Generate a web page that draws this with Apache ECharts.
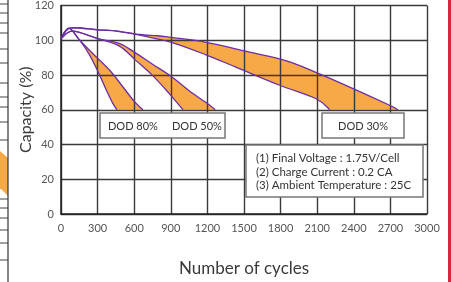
<!DOCTYPE html>
<html>
<head>
<meta charset="utf-8">
<script src="https://cdn.jsdelivr.net/npm/echarts@6/dist/echarts.min.js"></script>
<style>
  html, body { margin: 0; padding: 0; background: #fff; }
  #chart { width: 451px; height: 282px; }
</style>
</head>
<body>
<div id="chart"></div>
<script>
// cycle / capacity points, [cycles, capacity %]
var dod80Upper = [[0, 101], [65, 107], [150, 100.3], [262, 92.2], [399, 82.7], [508, 73.1], [604, 64.5], [672, 60]];
var dod80Lower = [[0, 101], [65, 107], [150, 100.3], [236, 91.3], [311, 80.8], [372, 71.2], [426, 63.5], [459, 60]];
var dod50Upper = [[0, 101], [96, 105.3], [301, 101], [482, 98], [604, 93], [754, 86], [891, 79.8], [1082, 69.3], [1192, 64], [1265, 60]];
var dod50Lower = [[0, 101], [96, 105.3], [301, 101], [482, 96.5], [604, 89], [754, 79.5], [891, 69], [1000, 60]];
var dod30Upper = [[0, 101], [75, 107], [301, 106], [465, 105.3], [645, 103.3], [793, 102.6], [905, 101.6], [1192, 98.8], [1492, 94], [1848, 88.2], [2094, 81.4], [2394, 72.2], [2694, 62.6], [2762, 60]];
var dod30Lower = [[0, 101], [75, 107], [301, 106], [465, 105.1], [645, 102.9], [905, 98.8], [1192, 91.5], [1438, 84.4], [1793, 74.1], [2094, 66.2], [2203, 60]];

var xTicks = [0, 300, 600, 900, 1200, 1500, 1800, 2100, 2400, 2700, 3000];
var yTicks = [0, 20, 40, 60, 80, 100, 120];

var dodLabels = ['DOD 80%', 'DOD 50%', 'DOD 30%'];
var notes = ['(1) Final Voltage : 1.75V/Cell', '(2) Charge Current : 0.2 CA', '(3) Ambient Temperature : 25C'];

var bands = [
    { upper: dod80Upper, lower: dod80Lower },
    { upper: dod50Upper, lower: dod50Lower },
    { upper: dod30Upper, lower: dod30Lower }
];

var ORANGE = '#f7a847';
var PURPLE = '#6b2fa3';
var FONT = 'Lato';

// catmull-rom through the pixel points, as cubic bezier segments
function bez(pts) {
    var d = '';
    for (var i = 0; i < pts.length - 1; i++) {
        var p0 = pts[i - 1] || pts[i], p1 = pts[i], p2 = pts[i + 1], p3 = pts[i + 2] || p2;
        var c1x = p1[0] + (p2[0] - p0[0]) / 6, c1y = p1[1] + (p2[1] - p0[1]) / 6;
        var c2x = p2[0] - (p3[0] - p1[0]) / 6, c2y = p2[1] - (p3[1] - p1[1]) / 6;
        d += ' C ' + c1x + ' ' + c1y + ' ' + c2x + ' ' + c2y + ' ' + p2[0] + ' ' + p2[1];
    }
    return d;
}

function pixels(api, list) {
    return list.map(function (p) { return api.coord(p); });
}

var chart = echarts.init(document.getElementById('chart'), null, { renderer: 'canvas' });

chart.setOption({
    animation: false,
    grid: { left: 61, right: 24, top: 5, bottom: 68 },
    xAxis: {
        type: 'value', min: 0, max: 3000, interval: 300, z: 4,
        name: 'Number of cycles', nameLocation: 'middle', nameGap: 46, nameMoveOverlap: false,
        nameTextStyle: { fontFamily: FONT, fontSize: 17, color: '#3a3a3a' },
        axisLine: { lineStyle: { color: '#222', width: 1.5 } },
        axisTick: { show: false },
        axisLabel: {
            margin: 9, fontFamily: FONT, fontSize: 11, color: '#555',
            formatter: function (v) { return xTicks.indexOf(v) >= 0 ? String(v) : ''; }
        },
        splitLine: { lineStyle: { color: '#3a3a3a', width: 1.4 } }
    },
    yAxis: {
        type: 'value', min: 0, max: 120, interval: 20, z: 4,
        name: 'Capacity (%)', nameLocation: 'middle', nameGap: 27, nameRotate: 90, nameMoveOverlap: false,
        nameTextStyle: { fontFamily: FONT, fontSize: 16, color: '#3a3a3a' },
        axisLine: { show: true, lineStyle: { color: '#222', width: 1.5 } },
        axisTick: { show: false },
        axisLabel: {
            margin: 7, fontFamily: FONT, fontSize: 11, color: '#555',
            formatter: function (v) { return yTicks.indexOf(v) >= 0 ? String(v) : ''; }
        },
        splitLine: { lineStyle: { color: '#3a3a3a', width: 1.4 } }
    },
    series: [
        {
            // orange bands, under the grid
            type: 'custom', z: 1, silent: true,
            data: [[0, 0], [1, 0], [2, 0]],
            renderItem: function (params, api) {
                var b = bands[params.dataIndex];
                var up = pixels(api, b.upper);
                var lo = pixels(api, b.lower).reverse();
                var d = 'M ' + up[0][0] + ' ' + up[0][1] + bez(up) +
                    ' L ' + lo[0][0] + ' ' + lo[0][1] + bez(lo) + ' Z';
                return { type: 'path', shape: { pathData: d }, style: { fill: ORANGE, stroke: null } };
            }
        },
        {
            // purple outlines, over the grid
            type: 'custom', z: 6, silent: true,
            data: [[0, 0], [1, 0], [2, 0]],
            renderItem: function (params, api) {
                var b = bands[params.dataIndex];
                var up = pixels(api, b.upper);
                var lo = pixels(api, b.lower);
                var style = { fill: null, stroke: PURPLE, lineWidth: 1.3 };
                return {
                    type: 'group',
                    children: [
                        { type: 'path', shape: { pathData: 'M ' + up[0][0] + ' ' + up[0][1] + bez(up) }, style: style },
                        { type: 'path', shape: { pathData: 'M ' + lo[0][0] + ' ' + lo[0][1] + bez(lo) }, style: style }
                    ]
                };
            }
        }
    ],
    graphic: [
        // label boxes
        { type: 'rect', z: 20, shape: { x: 100, y: 113, width: 125, height: 25 },
          style: { fill: '#fff', stroke: '#777', lineWidth: 1.5 } },
        { type: 'text', z: 21, x: 108, y: 126,
          style: { text: dodLabels[0], font: '11px ' + FONT, fill: '#333', textVerticalAlign: 'middle' } },
        { type: 'text', z: 21, x: 172, y: 126,
          style: { text: dodLabels[1], font: '11px ' + FONT, fill: '#333', textVerticalAlign: 'middle' } },
        { type: 'rect', z: 20, shape: { x: 322, y: 113, width: 82, height: 25 },
          style: { fill: '#fff', stroke: '#777', lineWidth: 1.5 } },
        { type: 'text', z: 21, x: 363, y: 126,
          style: { text: dodLabels[2], font: '11px ' + FONT, fill: '#333', textAlign: 'center', textVerticalAlign: 'middle' } },
        { type: 'rect', z: 20, shape: { x: 246, y: 145, width: 177, height: 52 },
          style: { fill: '#fff', stroke: '#777', lineWidth: 1.5 } },
        { type: 'text', z: 21, x: 256, y: 152,
          style: { text: notes.join('\n'), font: '11.5px ' + FONT, fill: '#333', lineHeight: 13.2 } },
        // cropped edges of the neighbouring picture
        { type: 'rect', z: 20, shape: { x: 448, y: 0, width: 3, height: 282 }, style: { fill: '#d7263d' } },
        { type: 'polygon', z: 19, shape: { points: [[0, 151], [8, 158], [8, 196], [0, 188]] }, style: { fill: ORANGE } },
        { type: 'line', z: 20, shape: { x1: 8, y1: 0, x2: 8, y2: 282 }, style: { stroke: '#333', lineWidth: 1.2 } },
        { type: 'group', z: 20, children: [4, 13, 23, 33, 49, 63, 83, 97, 107, 122, 140, 163, 188, 199, 208, 218, 230, 243, 260].map(function (y) {
            return { type: 'line', shape: { x1: 0, y1: y, x2: 8, y2: y }, style: { stroke: '#444', lineWidth: 1 } };
        }) }
    ]
});
</script>
</body>
</html>
